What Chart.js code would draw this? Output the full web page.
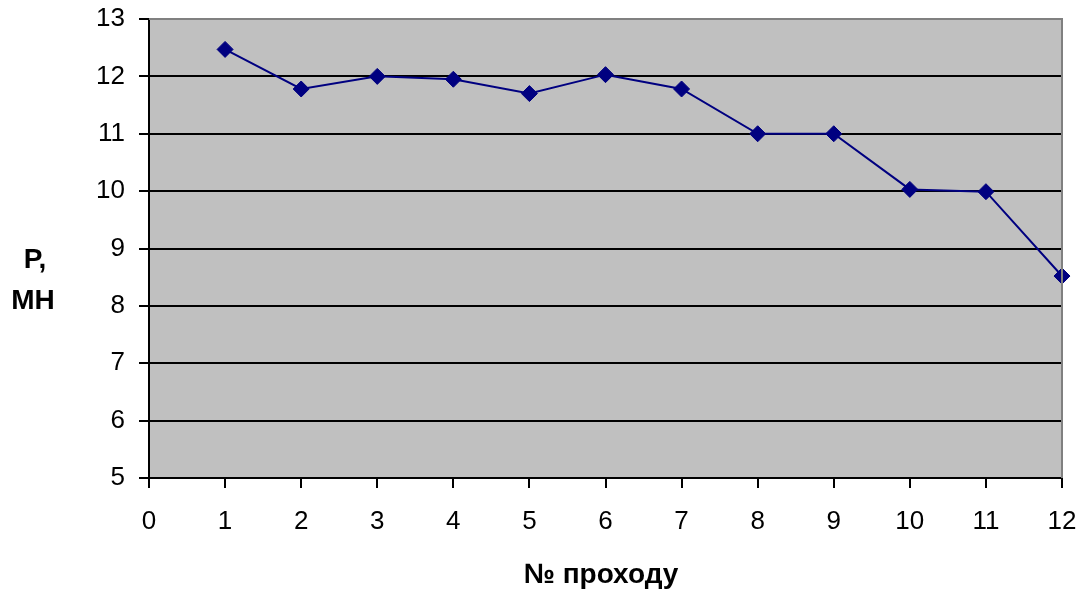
<!DOCTYPE html>
<html>
<head>
<meta charset="utf-8">
<script src="https://cdn.jsdelivr.net/npm/chart.js@4.4.1/dist/chart.umd.min.js"></script>
<style>
html,body{margin:0;padding:0;background:#fff;}
#wrap{position:relative;width:1086px;height:598px;}
</style>
</head>
<body>
<div id="wrap"><canvas id="c" width="1086" height="598"></canvas></div>
<script>
const passes = [1, 2, 3, 4, 5, 6, 7, 8, 9, 10, 11, 12];
const force = [12.47, 11.78, 12.0, 11.95, 11.70, 12.03, 11.78, 11.0, 11.0, 10.03, 9.99, 8.52];
const xTicks = [0, 1, 2, 3, 4, 5, 6, 7, 8, 9, 10, 11, 12];
const yTicks = [5, 6, 7, 8, 9, 10, 11, 12, 13];
const yTitle = ['Р,', 'МН'];
const xTitle = '№ проходу';

const FONT = "'Liberation Sans', Arial, sans-serif";

const bgPlugin = {
  id: 'bg',
  beforeDraw(chart) {
    const {ctx, chartArea: a} = chart;
    ctx.save();
    ctx.fillStyle = '#C0C0C0';
    ctx.fillRect(a.left, a.top, a.right - a.left, a.bottom - a.top);
    ctx.restore();
  },
  afterDraw(chart) {
    const {ctx, chartArea: a} = chart;
    ctx.save();
    ctx.strokeStyle = '#808080';
    ctx.lineWidth = 2;
    ctx.beginPath();
    ctx.moveTo(a.left, a.top);
    ctx.lineTo(a.right, a.top);
    ctx.lineTo(a.right, a.bottom);
    ctx.stroke();
    ctx.fillStyle = '#000';
    ctx.font = "bold 28px " + FONT;
    ctx.textAlign = 'center';
    ctx.textBaseline = 'middle';
    ctx.fillText(yTitle[0], 35, 260);
    ctx.fillText(yTitle[1], 33, 301);
    ctx.fillText(xTitle, 601, 575);
    ctx.restore();
  }
};

new Chart(document.getElementById('c'), {
  type: 'line',
  data: {
    datasets: [{
      data: passes.map((p, i) => ({x: p, y: force[i]})),
      borderColor: '#000080',
      backgroundColor: '#000080',
      borderWidth: 2,
      pointStyle: 'rectRot',
      pointRadius: 8,
      pointBorderWidth: 1,
      pointBorderColor: '#000080',
      pointBackgroundColor: '#000080',
      tension: 0,
      clip: false
    }]
  },
  options: {
    responsive: false,
    animation: false,
    events: [],
    layout: {padding: {left: 0, right: 24, top: 19, bottom: 0}},
    plugins: {legend: {display: false}, tooltip: {enabled: false}},
    scales: {
      x: {
        type: 'linear',
        min: 0, max: 12,
        afterFit(s) { s.height = 120; s.paddingLeft = 0; s.paddingRight = 0; },
        afterBuildTicks(s) { s.ticks = xTicks.map(v => ({value: v})); },
        grid: {drawOnChartArea: false, drawTicks: true, tickLength: 10, color: '#000', lineWidth: 2},
        border: {display: true, color: '#000', width: 2},
        ticks: {color: '#000', font: {family: FONT, size: 26}, padding: 18, maxRotation: 0}
      },
      y: {
        min: 5, max: 13,
        afterFit(s) { s.width = 149; s.paddingTop = 0; s.paddingBottom = 0; },
        afterBuildTicks(s) { s.ticks = yTicks.map(v => ({value: v})); },
        grid: {drawTicks: true, tickLength: 10, color: '#000', lineWidth: 2},
        border: {display: true, color: '#000', width: 2},
        ticks: {color: '#000', font: {family: FONT, size: 26}, padding: 14}
      }
    }
  },
  plugins: [bgPlugin]
});
</script>
</body>
</html>
